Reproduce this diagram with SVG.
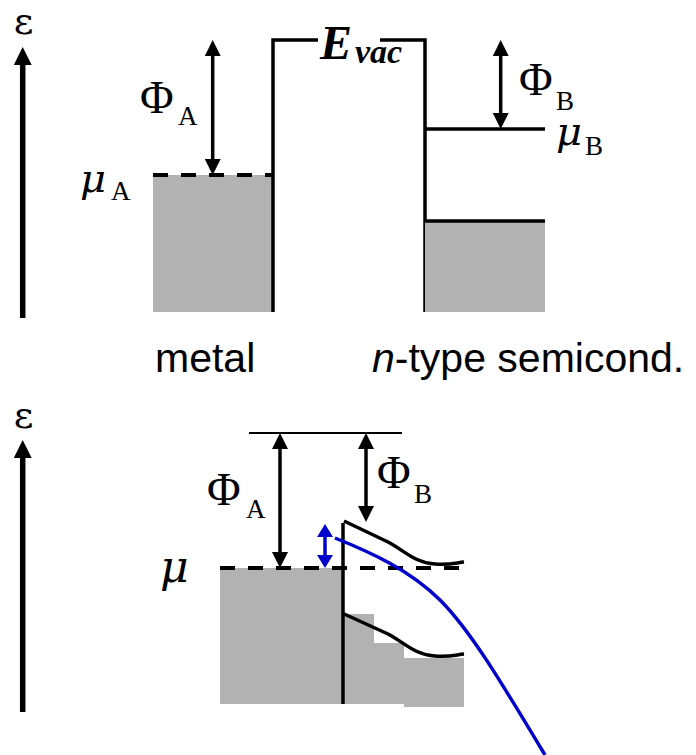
<svg xmlns="http://www.w3.org/2000/svg" width="696" height="755" viewBox="0 0 696 755">
  <style>
    .ln { stroke: #000; stroke-width: 3.5; fill: none; }
    .thin { stroke: #000; stroke-width: 2; fill: none; }
    .dash { stroke: #000; stroke-width: 4; stroke-dasharray: 15 13; fill: none; }
    .axis { stroke: #000; stroke-width: 5.5; fill: none; marker-end: url(#headBig); }
    .dbl { stroke: #000; stroke-width: 3.5; fill: none; marker-start: url(#head); marker-end: url(#head); }
    .dblBlue { stroke: #0000cc; stroke-width: 3.5; fill: none; marker-start: url(#headBlue); marker-end: url(#headBlue); }
    .gray { fill: #b2b2b2; stroke: none; }
    .sym { font-family: "Liberation Serif", "Times New Roman", serif; fill: #000; }
    .mu { font-family: "DejaVu Serif", "Liberation Serif", serif; font-style: italic; fill: #000; }
    .eps { font-family: "DejaVu Serif", "Liberation Serif", serif; font-size: 38px; fill: #000; }
    .it { font-style: italic; }
    .lbl { font-family: "Liberation Sans", Arial, sans-serif; font-size: 41px; fill: #000; }
  </style>
  <defs>
    <marker id="head" markerUnits="userSpaceOnUse" markerWidth="16" markerHeight="16" viewBox="0 -8 16 16" refX="0" refY="0" orient="auto-start-reverse">
      <path d="M0,-8 L16,0 L0,8 z" fill="#000"/>
    </marker>
    <marker id="headBig" markerUnits="userSpaceOnUse" markerWidth="18" markerHeight="18" viewBox="0 -9 18 18" refX="0" refY="0" orient="auto-start-reverse">
      <path d="M0,-9 L18,0 L0,9 z" fill="#000"/>
    </marker>
    <marker id="headBlue" markerUnits="userSpaceOnUse" markerWidth="13" markerHeight="16" viewBox="0 -8 13 16" refX="0" refY="0" orient="auto-start-reverse">
      <path d="M0,-8 L13,0 L0,8 z" fill="#0000cc"/>
    </marker>
  </defs>

  <!-- ===== Top diagram ===== -->
  <g id="top-axis">
    <line class="axis" x1="22.7" y1="318" x2="22.7" y2="65"/>
    <text class="eps" x="23.5" y="34" text-anchor="middle">ε</text>
  </g>

  <g id="metal-A">
    <rect class="gray" x="153" y="175" width="120" height="137"/>
    <line class="dash" x1="153" y1="175" x2="273" y2="175"/>
    <path class="ln" d="M273,312 L273,40 L318,40"/>
    <text class="mu" x="80" y="192" font-size="40">μ</text>
    <text class="sym" x="111" y="200" font-size="27">A</text>
  </g>

  <g id="evac-label">
    <text class="sym it" x="320" y="59" font-size="48" font-weight="bold">E</text>
    <text class="sym it" x="355" y="63" font-size="34" font-weight="bold">vac</text>
  </g>

  <g id="semi-B">
    <path class="ln" d="M380,40 L425,40 L425,312"/>
    <rect class="gray" x="425" y="221" width="120" height="91"/>
    <line class="ln" x1="425" y1="129" x2="545" y2="129"/>
    <line class="ln" x1="425" y1="221" x2="545" y2="221"/>
    <text class="mu" x="556" y="145" font-size="40">μ</text>
    <text class="sym" x="585" y="155" font-size="27">B</text>
  </g>

  <g id="labels-top">
    <text class="lbl" x="155" y="372">metal</text>
    <text class="lbl" x="372" y="372"><tspan font-style="italic">n</tspan>-type semicond.</text>
  </g>

  <g id="connectors-top">
    <line class="dbl" x1="212.7" y1="56" x2="212.7" y2="159"/>
    <text class="sym" x="140" y="113" font-size="46">Φ</text>
    <text class="sym" x="178" y="125" font-size="27">A</text>
    <line class="dbl" x1="500.7" y1="56" x2="500.7" y2="113"/>
    <text class="sym" x="519" y="95" font-size="46">Φ</text>
    <text class="sym" x="556" y="110" font-size="27">B</text>
  </g>

  <!-- ===== Bottom diagram ===== -->
  <g id="bottom-axis">
    <line class="axis" x1="22.7" y1="712" x2="22.7" y2="458"/>
    <text class="eps" x="23.5" y="428" text-anchor="middle">ε</text>
  </g>

  <g id="junction">
    <rect class="gray" x="220" y="568" width="123" height="136"/>
    <path class="gray" d="M343,614 L374,614 L374,643 L404,643 L404,658 L464,658 L464,707 L404,707 L404,704 L343,704 z"/>
    <line class="thin" x1="249" y1="433" x2="402" y2="433"/>
    <line class="dash" x1="220" y1="568" x2="460" y2="568"/>
    <line class="ln" x1="343" y1="523" x2="343" y2="704"/>
    <path class="ln" d="M344,521 L388,542 C405,551 415,563 435,564 C450,565 455,563 464,562"/>
    <path class="ln" d="M342,613 L388,634 C405,643 415,655 435,656 C450,657 455,655 464,654"/>
    <path d="M335,538 C370,552 410,570 440,600 C470,630 500,680 545,755" stroke="#0000cc" stroke-width="3.5" fill="none"/>
    <text class="mu" x="160" y="582" font-size="44">μ</text>
  </g>

  <g id="connectors-bottom">
    <line class="dbl" x1="280" y1="449" x2="280" y2="552"/>
    <text class="sym" x="207" y="505" font-size="46">Φ</text>
    <text class="sym" x="246" y="518" font-size="27">A</text>
    <line class="dbl" x1="366" y1="449" x2="366" y2="506"/>
    <text class="sym" x="377" y="488" font-size="46">Φ</text>
    <text class="sym" x="414" y="503" font-size="27">B</text>
    <line class="dblBlue" x1="325" y1="537" x2="325" y2="555"/>
  </g>
</svg>
